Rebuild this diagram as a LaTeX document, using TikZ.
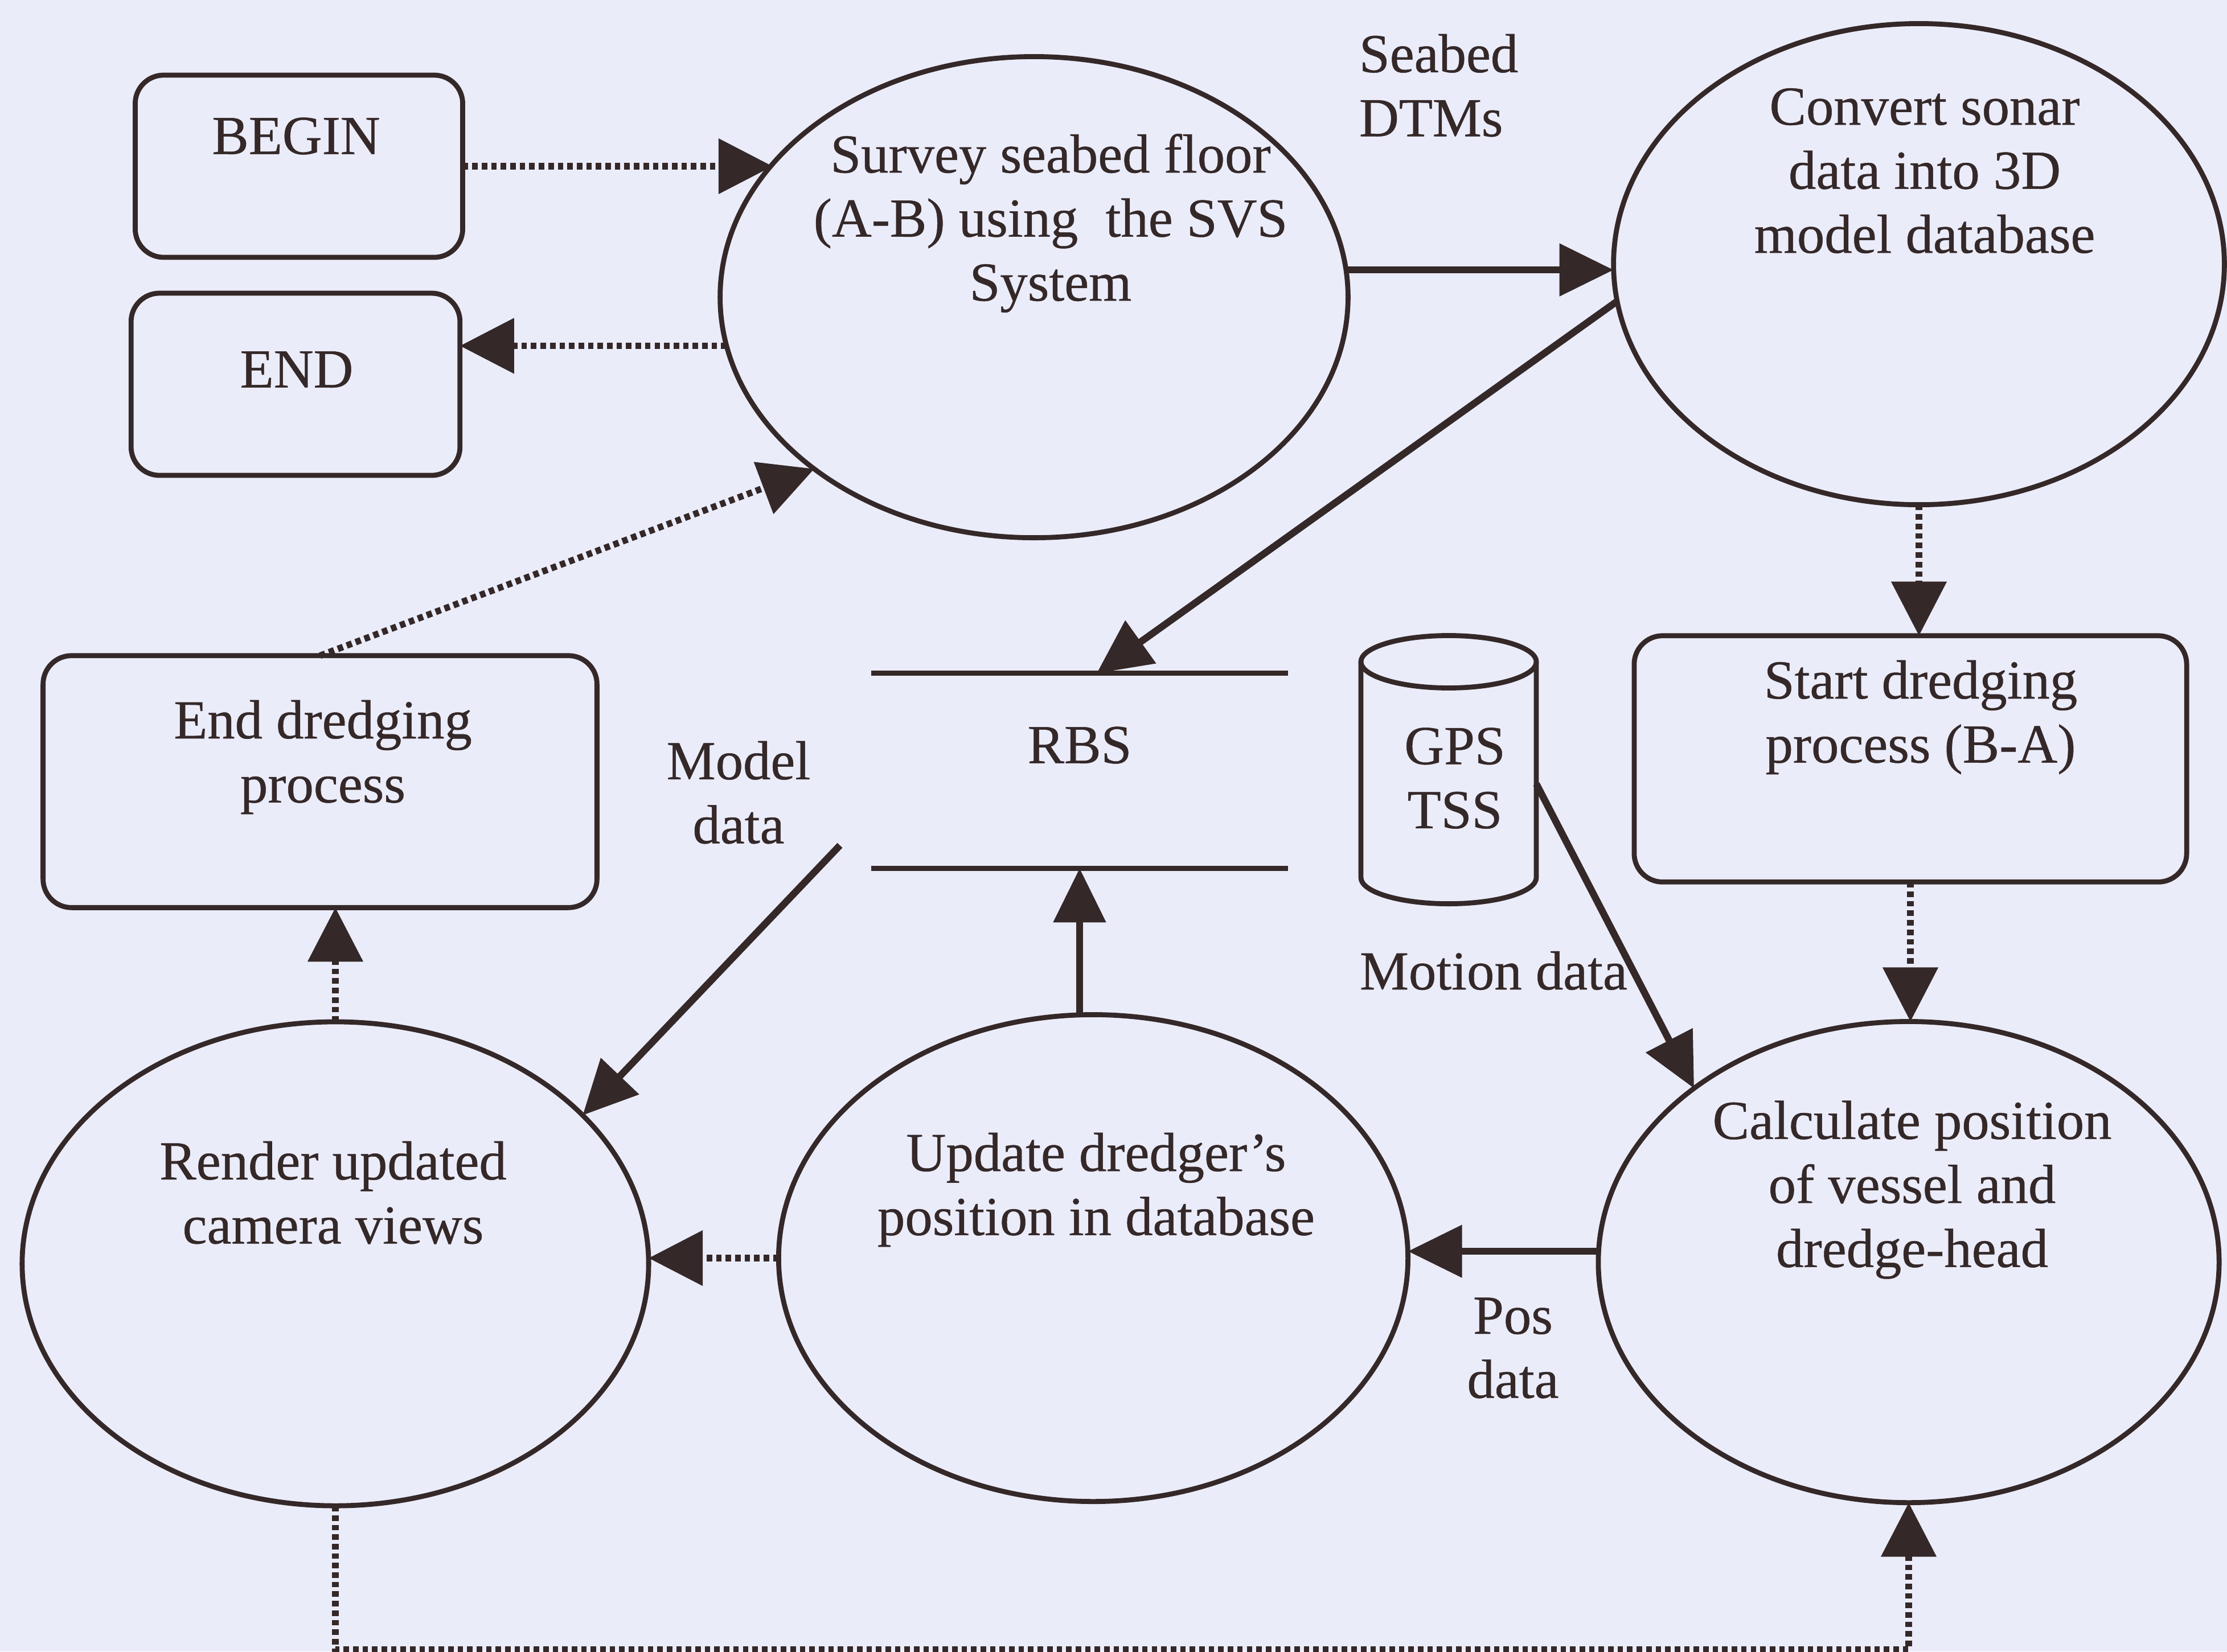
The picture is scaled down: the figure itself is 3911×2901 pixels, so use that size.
\documentclass[tikz,border=0pt]{standalone}
\usepackage{fontspec}
\setmainfont{Liberation Serif}[FakeBold=0.5]
\usetikzlibrary{shapes.geometric,arrows.meta,calc}
\definecolor{ink}{RGB}{52,40,40}
\definecolor{paper}{RGB}{235,236,250}
\begin{document}
\begin{tikzpicture}[x=0.04mm,y=-0.04mm,
  every node/.style={inner sep=0pt, outer sep=0pt, text=ink, font=\fontsize{11}{12.8}\selectfont},
  proc/.style={ellipse, draw=ink, line width=1pt},
  rbox/.style={rectangle, rounded corners=2mm, draw=ink, line width=1pt},
  lbl/.style={align=center},
  solidarrow/.style={draw=ink, line width=1.4pt, -{Triangle[length=3.8mm,width=3.6mm]}},
  dotarrow/.style={draw=ink, line width=1.3pt, dash pattern=on 1.1pt off 0.8pt, -{Triangle[length=3.8mm,width=3.8mm]}},
  thinline/.style={draw=ink, line width=1pt}
]
\fill[paper] (0,0) rectangle (3911,2901);
\useasboundingbox (0,0) rectangle (3911,2901);

% boxes
\node[rbox, minimum width=23.0mm, minimum height=12.8mm] (begin) at (525,292) {};
\node[lbl] (beginT) at (520,239) {BEGIN};
\node[rbox, minimum width=23.1mm, minimum height=12.8mm] (end) at (519,675) {};
\node[lbl] (endT) at (521,649) {END};
\node[rbox, minimum width=38.9mm, minimum height=17.7mm] (enddr) at (562,1373) {};
\node[lbl] (enddrT) at (567,1330) {End dredging\\process};
\node[rbox, minimum width=38.8mm, minimum height=17.3mm] (start) at (3355,1333) {};
\node[lbl] (startT) at (3373,1260) {Start dredging\\process (B-A)};

% processes
\node[proc, minimum width=44.1mm, minimum height=33.8mm] (survey) at (1816,522) {};
\node[lbl] (surveyT) at (1845,392) {Survey seabed floor\\(A-B) using\ \ the SVS\\System};
\node[proc, minimum width=42.9mm, minimum height=33.8mm] (convert) at (3370,464) {};
\node[lbl] (convertT) at (3380,300) {Convert sonar\\data into 3D\\model database};
\node[proc, minimum width=43.6mm, minimum height=33.8mm] (calc) at (3352,2217) {};
\node[lbl] (calcT) at (3358,2090) {Calculate position\\of vessel and\\dredge-head};
\node[proc, minimum width=44.2mm, minimum height=34.2mm] (update) at (1920,2210) {};
\node[lbl] (updateT) at (1925,2090) {Update dredger's\\position in database};
\node[proc, minimum width=44.0mm, minimum height=34.0mm] (render) at (589,2220) {};
\node[lbl] (renderT) at (585,2095) {Render updated\\camera views};

% data store RBS
\node[minimum width=29.3mm, minimum height=13.7mm] (rbs) at (1896,1354) {};
\draw[thinline] (rbs.north west) -- (rbs.north east) (rbs.south west) -- (rbs.south east);
\node (rbsT) at (1896,1309) {RBS};

% cylinder GPS TSS
\node[minimum width=12.32mm, minimum height=18.84mm] (gps) at (2544,1352) {};
\draw[thinline] ($(gps.north)+(0,46)$) ellipse [x radius=6.16mm, y radius=1.84mm];
\draw[thinline] ($(gps.north west)+(0,46)$) -- ($(gps.south west)+(0,-46)$)
  arc[start angle=180, end angle=360, x radius=6.16mm, y radius=1.84mm] -- ($(gps.north east)+(0,46)$);
\node[lbl] (gpsT) at (2555,1367) {GPS\\TSS};

% labels
\node[align=left, anchor=west] (dtm) at (2387,150) {Seabed\\DTMs};
\node[lbl] (model) at (1297,1392) {Model\\data};
\node[anchor=west] (motion) at (2388,1705) {Motion data};
\node[lbl] (pos) at (2657,2368) {Pos\\data};

% connectors
\draw[dotarrow] (begin.east) -- (begin.east -| survey.153.6);
\draw[dotarrow] (survey.189) -- (survey.189 -| end.east);
\draw[solidarrow] (survey.5.4) -- (survey.5.4 -| convert.west);
\draw[solidarrow] (convert.187) -- ($(rbs.north)+(30,0)$);
\draw[dotarrow] (convert.south) -- (convert.south |- start.north);
\draw[dotarrow] (start.south) -- (start.south |- calc.north);
\draw[solidarrow] ($(gps.east)+(0,25)$) -- (calc.141.5);
\draw[solidarrow] (calc.178) -- (calc.178 -| update.east);
\draw[solidarrow] (rbs.south |- update.north) -- (rbs.south);
\draw[dotarrow] (update.west) -- (update.west -| render.east);
\coordinate (mdStart) at (1475,1485);
\draw[solidarrow] (mdStart) -- (render.31);
\draw[dotarrow] (enddr.north) -- (survey.218);
\draw[dotarrow] (render.north) -- (render.north |- enddr.south);
\draw[dotarrow] (render.south) -- ++(0,253) -| (calc.south);
\end{tikzpicture}
\end{document}
